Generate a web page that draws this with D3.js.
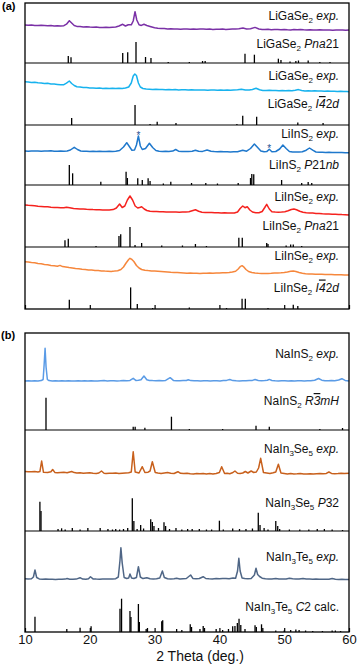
<!DOCTYPE html>
<html><head><meta charset="utf-8">
<script src="https://cdn.jsdelivr.net/npm/d3@7"></script>
<style>body{margin:0;background:#fff}svg{display:block}text{font-family:"Liberation Sans",Arial,sans-serif}</style>
</head><body><svg id="c" width="358" height="671"></svg>
<script>
// ---------------- DATA ----------------
const xTicks = [10, 20, 30, 40, 50, 60];
const axisTitle = "2 Theta (deg.)";
const panelLabels = ["(a)", "(b)"];

// LiGaSe2 experimental (Pna21 sample)
const liGaSe2ExpA = [[10,8],[10.5,7.8],[11,8.1],[11.5,7.6],[12,7.5],[12.5,7.8],[13,7.6],[13.5,7.3],[14,7.4],[14.5,7.0],[15,7.2],[15.5,6.9],[16,7.3],[16.4,8.8],[16.84,12.3],[17.2,10],[17.6,7.5],[18,6.6],[18.5,6.5],[19,6.1],[19.5,6.3],[20,6.0],[20.5,5.8],[21,6.0],[21.5,5.6],[22,5.5],[22.5,5.7],[23,5.4],[23.5,5.7],[24,6.0],[24.5,7.0],[25.08,8.7],[25.5,7.0],[25.94,8.3],[26.4,8.2],[26.7,12],[26.98,21.3],[27.25,13],[27.6,8.2],[27.95,7.6],[28.36,8.7],[28.8,7.5],[29.3,6.5],[30,5.2],[30.5,4.8],[31,4.5],[31.5,4.4],[32,4.0],[32.5,4.2],[33,3.9],[33.5,4.1],[34,3.8],[34.5,4.0],[35,3.9],[35.5,3.7],[36,4.0],[36.5,3.8],[37,4.1],[37.5,3.9],[38,3.7],[38.5,3.9],[39,3.6],[39.5,3.8],[40,3.7],[40.5,3.9],[41,3.6],[41.5,3.8],[42,3.9],[42.5,4.0],[43,4.3],[43.64,4.9],[44.2,4.1],[44.8,4.3],[45.5,5.6],[46.1,4.0],[46.6,3.6],[47,3.5],[47.5,3.7],[48,3.3],[48.5,3.5],[49,3.4],[49.5,3.2],[50,3.6],[50.5,3.3],[51,3.1],[51.5,3.4],[52,3.2],[52.5,3.5],[53,3.2],[53.5,3.0],[54,3.3],[54.5,3.1],[55,3.0],[55.5,3.2],[56,2.9],[56.5,3.1],[57,3.0],[57.5,2.8],[58,3.1],[58.5,2.9],[59,3.0],[59.5,2.8],[60,3.0]];
const liGaSe2Pna21 = [[16.68,7],[17.1,5.7],[25.08,10],[25.85,10.7],[27.13,21],[28.6,6],[29.44,5],[32.1,1],[35.36,1],[37.4,2],[37.8,2],[43.95,9.3],[45.4,8.3],[49.1,4.3],[49.5,3],[50.9,1.5],[51.8,2],[52.2,2.5],[53.7,2.5],[55.5,1],[57.07,1]];

// LiGaSe2 experimental (I-42d sample)
const liGaSe2ExpB = [[10,11.3],[10.5,11.0],[11,10.6],[11.5,10.7],[12,10.2],[12.5,10.0],[13,9.6],[13.5,9.7],[14,9.1],[14.5,8.9],[15,8.6],[15.5,8.3],[16,8.3],[16.4,9.8],[16.84,12.0],[17.2,9.5],[17.6,7.5],[18,6.3],[18.5,6.0],[19,5.6],[19.5,5.5],[20,5.1],[20.5,5.0],[21,4.8],[21.5,4.9],[22,4.6],[22.5,4.8],[23,4.6],[23.5,4.7],[24,4.5],[24.5,4.7],[25,4.6],[25.5,5.0],[26,6.0],[26.4,10],[26.7,17],[26.95,19],[27.2,17.5],[27.5,10],[27.8,6.0],[28.2,4.5],[28.7,4.0],[29.2,3.8],[29.7,3.6],[30.2,3.7],[30.7,3.4],[31.2,3.5],[31.7,3.3],[32.2,3.5],[32.7,3.2],[33.2,3.4],[33.7,3.1],[34.2,3.3],[34.7,3.2],[35.2,3.0],[35.7,3.2],[36.2,3.1],[36.7,2.9],[37.2,3.1],[37.7,3.0],[38.2,2.8],[38.7,3.0],[39.2,2.9],[39.7,2.8],[40.2,3.0],[40.7,2.7],[41.2,2.9],[41.7,2.8],[42.2,3.0],[42.8,3.3],[43.4,3.8],[44,3.0],[44.6,2.9],[45.1,3.5],[45.65,4.8],[46.2,3.2],[46.7,2.6],[47.2,2.5],[47.7,2.7],[48.2,2.4],[48.7,2.6],[49.2,2.3],[49.7,2.5],[50.2,2.2],[50.7,2.4],[51.2,2.3],[51.7,2.7],[52.2,3.4],[52.7,2.5],[53.2,2.1],[53.7,2.3],[54.2,2.0],[54.7,2.2],[55.2,1.9],[55.7,2.1],[56.2,1.8],[56.7,1.9],[57.2,1.7],[57.7,1.8],[58.2,1.6],[58.7,1.7],[59.2,1.4],[59.7,1.5],[60,1.3]];
const liGaSe2I42d = [[17.2,7],[26.98,20],[29.3,1],[30.4,3.3],[33.3,2],[42.7,1],[43.6,9.3],[45.75,8.3],[52.1,2.5],[56.0,2]];

// LiInS2
const liInS2Exp = [[10,4.0],[10.5,3.8],[11,4.1],[11.5,3.9],[12,4.0],[12.5,3.7],[13,3.9],[13.5,4.0],[14,4.2],[14.5,3.8],[15,3.7],[15.5,3.9],[16,3.8],[16.5,4.0],[17,5.0],[17.6,7.7],[18.1,5.5],[18.6,4.0],[19,3.7],[19.5,3.8],[20,3.6],[20.5,3.7],[21,3.5],[21.5,3.7],[22,3.6],[22.5,3.5],[23,3.7],[23.5,3.6],[24,3.8],[24.6,4.5],[25.2,8],[25.7,12.3],[26.1,8.5],[26.5,4.8],[26.9,5.0],[27.2,10],[27.5,19],[27.8,9],[28.1,5.5],[28.6,6.5],[29.2,11.7],[29.7,7.5],[30.2,4.5],[30.7,3.8],[31.2,3.6],[31.7,3.7],[32.2,3.5],[32.8,3.9],[33.25,5.5],[33.7,3.8],[34.2,3.5],[34.7,3.6],[35.2,3.4],[35.8,3.8],[36.3,4.8],[36.8,3.7],[37.4,3.6],[38.1,5.0],[38.7,3.8],[39.2,3.4],[39.7,3.3],[40.2,3.5],[40.7,3.2],[41.2,3.3],[41.7,3.1],[42.2,3.3],[42.8,3.2],[43.6,4.8],[44.2,3.8],[44.8,6.5],[45.4,11],[45.9,7.5],[46.4,4.0],[46.9,3.2],[47.3,3.4],[47.7,5.8],[48.1,3.3],[48.7,3.5],[49.3,6],[49.8,10],[50.3,6.5],[50.8,3.5],[51.3,3.0],[51.8,2.9],[52.3,3.0],[52.8,3.2],[53.4,4.8],[53.9,7],[54.4,4.8],[54.9,3.0],[55.4,2.7],[55.9,2.8],[56.4,2.6],[56.9,2.7],[57.4,2.5],[57.9,2.6],[58.4,2.4],[58.9,2.5],[59.4,2.3],[60,2.3]];
const liInS2Stars = [[27.5,19],[47.7,5.8]];
const liInS2P21nb = [[16.84,20],[17.35,11.7],[21.7,3.3],[25.6,13.3],[25.8,7],[27.4,6.7],[28.1,5],[29.0,6.7],[29.3,4],[31.35,1.5],[32.5,3.3],[35.7,2],[37.9,2],[39.7,1.5],[42.9,2],[44.8,7],[45.0,11],[45.3,10.7],[49.6,5],[52.7,2],[53.7,3],[54.25,2]];

// LiInSe2 (Pna21 sample)
const liInSe2ExpA = [[10,10],[10.5,9.7],[11,9.5],[11.5,9.2],[12,8.8],[12.5,8.6],[13,8.3],[13.5,8.2],[14,7.8],[14.5,7.6],[15,7.4],[15.5,7.2],[16,7.3],[16.4,7.8],[16.9,7.2],[17.5,6.4],[18,6.3],[18.5,6.0],[19,5.9],[19.5,5.7],[20,5.6],[20.5,5.4],[21,5.3],[21.5,5.2],[22,5.0],[22.5,5.1],[23,5.0],[23.6,5.4],[24.1,7.0],[24.6,11],[25.0,7.5],[25.4,9],[25.8,15],[26.2,19],[26.6,15],[27.0,9],[27.4,7.0],[27.8,7.8],[28.0,8.3],[28.4,6.0],[28.8,4.5],[29.3,3.8],[29.8,3.5],[30.3,3.4],[30.8,3.2],[31.3,3.3],[31.8,3.0],[32.3,3.1],[32.8,2.9],[33.3,3.0],[33.8,2.8],[34.3,2.9],[34.8,3.0],[35.3,3.2],[35.8,4.2],[36.3,5.2],[36.8,3.8],[37.3,2.8],[37.8,2.6],[38.3,2.4],[38.8,2.5],[39.3,2.2],[39.8,2.3],[40.3,2.0],[40.8,2.2],[41.3,1.9],[41.8,2.0],[42.3,2.0],[42.8,3.0],[43.2,6.5],[43.6,9],[43.95,7.3],[44.3,8.3],[44.7,5.0],[45.1,3.0],[45.6,2.3],[46.1,2.2],[46.6,3.5],[47.0,7.5],[47.3,10.7],[47.7,6.0],[48.1,3.3],[48.6,3.0],[49.1,2.8],[49.6,3.0],[50.1,3.3],[50.6,4.2],[51.1,5.5],[51.5,6.0],[51.9,5.2],[52.4,3.8],[52.9,2.8],[53.4,2.3],[53.9,2.0],[54.4,1.9],[54.9,1.6],[55.4,1.5],[55.9,1.2],[56.4,1.1],[56.9,1.0],[57.4,0.8],[57.9,0.7],[58.4,0.6],[58.9,0.4],[59.4,0.3],[60,0.0]];
const liInSe2Pna21 = [[16.17,6.7],[16.68,8.3],[20.96,1],[24.5,11],[24.77,12.7],[26.2,20],[26.98,2],[28.0,4],[31.1,1.5],[34.3,1.5],[36.3,3],[38.0,1],[43.0,9.3],[43.53,9.3],[47.3,4],[47.5,3],[50.3,1.5],[51.0,2.5],[51.4,2.5],[52.7,1]];

// LiInSe2 (I-42d sample)
const liInSe2ExpB = [[10,15.3],[10.5,15.0],[11,14.5],[11.5,14.2],[12,13.6],[12.5,13.2],[13,12.6],[13.5,12.3],[14,11.6],[14.5,11.2],[15,10.8],[15.4,11.6],[15.8,10.4],[16.3,10.0],[16.8,9.5],[17.3,9.1],[17.8,8.6],[18.3,8.3],[18.8,7.8],[19.3,7.6],[19.8,7.1],[20.3,6.9],[20.8,6.6],[21.3,6.4],[21.8,6.1],[22.3,5.9],[22.8,5.8],[23.3,5.6],[23.8,5.9],[24.3,6.3],[24.8,7.5],[25.2,10],[25.6,14],[26.0,17.5],[26.2,18.7],[26.5,17.5],[26.8,15.5],[27.2,11.5],[27.6,9],[28.0,7.5],[28.5,6.8],[29.0,6.4],[29.5,6.1],[30.0,5.9],[30.5,5.7],[31.0,5.5],[31.5,5.3],[32.0,5.1],[32.5,4.8],[33.0,4.6],[33.5,4.4],[34.0,4.2],[34.5,4.0],[35.0,3.8],[35.5,3.9],[36.0,3.7],[36.5,3.8],[37.0,3.6],[37.5,3.8],[38.0,3.7],[38.5,3.9],[39.0,3.8],[39.5,4.0],[40.0,4.0],[40.5,4.2],[41.0,4.3],[41.5,4.6],[42.0,5.0],[42.5,5.8],[42.9,8.0],[43.2,10.3],[43.5,11.3],[43.8,9.8],[44.1,7.5],[44.5,5.5],[45.0,4.5],[45.5,4.0],[46.0,3.7],[46.5,3.6],[47.0,3.5],[47.5,3.6],[48.0,3.7],[48.5,3.9],[49.0,4.1],[49.5,4.3],[50.0,4.6],[50.5,5.0],[51.0,5.7],[51.4,6.0],[51.8,5.5],[52.3,4.5],[52.8,3.7],[53.3,3.3],[53.8,3.0],[54.3,2.9],[54.8,2.8],[55.3,2.7],[55.8,2.7],[56.3,2.6],[56.8,2.4],[57.3,2.4],[57.8,2.3],[58.3,2.2],[58.8,2.2],[59.3,2.0],[60,2.0]];
const liInSe2I42d = [[16.84,9.3],[26.3,21.6],[27.33,5],[29.7,1],[35.36,1.5],[41.1,1],[43.5,10.3],[44.0,10.3],[47.5,1],[51.4,4.3],[52.1,3]];

// NaInS2
const naInS2Exp = [[10,2.0],[10.5,2.2],[11,2.0],[11.5,2.3],[12,2.1],[12.5,2.4],[12.8,3.5],[12.95,18],[13.1,34.7],[13.25,16],[13.45,3.5],[13.7,2.4],[14.2,2.1],[14.7,2.3],[15.2,2.0],[15.7,2.2],[16.2,2.1],[16.7,2.3],[17.2,2.0],[17.7,2.1],[18.2,2.3],[18.7,2.0],[19.2,2.2],[19.7,2.1],[20.2,2.3],[20.7,2.1],[21.2,2.0],[21.7,2.2],[22.2,2.4],[22.7,2.1],[23.2,2.3],[23.7,2.2],[24.2,2.0],[24.7,2.2],[25.2,2.5],[25.7,2.3],[26.2,2.6],[26.7,4.7],[27.1,2.6],[27.5,2.8],[27.9,3.2],[28.36,7],[28.8,3.2],[29.2,2.6],[29.7,2.4],[30.2,2.3],[30.7,2.5],[31.2,2.2],[31.7,2.6],[32.4,5.3],[32.9,2.6],[33.4,2.3],[33.9,2.2],[34.4,2.4],[34.9,2.5],[35.2,3.3],[35.6,2.4],[36.1,2.2],[36.6,2.3],[37.1,2.1],[37.6,2.3],[38.1,2.2],[38.6,2.0],[39.1,2.2],[39.6,2.3],[40.1,2.1],[40.6,2.4],[41.1,2.6],[41.6,3.5],[42.1,2.4],[42.6,2.2],[43.1,2.1],[43.6,2.3],[44.1,2.2],[44.6,2.4],[45.1,2.6],[45.5,3.5],[46.0,2.5],[46.5,2.3],[47.0,2.4],[47.4,2.7],[47.7,3.6],[48.1,2.5],[48.6,2.2],[49.1,2.1],[49.6,2.3],[50.1,2.2],[50.6,2.0],[51.1,2.2],[51.6,2.1],[52.1,2.3],[52.6,2.2],[53.1,2.0],[53.6,2.2],[54.1,2.3],[54.7,2.8],[55.3,4.5],[55.8,2.8],[56.3,2.3],[56.8,2.2],[57.3,2.4],[57.8,2.3],[58.4,3.0],[58.9,4.3],[59.4,2.6],[60,2.0]];
const naInS2R3mH = [[13.24,32.3],[26.7,3.3],[27.0,3.3],[28.5,2.3],[32.6,13.3],[35.36,1],[40.5,1],[45.65,4.3],[47.7,3.3],[55.5,1],[59.0,2]];

// NaIn3Se5
const naIn3Se5Exp = [[10,8.5],[10.5,8.3],[11,8.2],[11.5,8.4],[12,8.0],[12.3,8.4],[12.57,19],[12.85,7.7],[13.5,7.5],[14.0,8.2],[14.27,10.5],[14.6,7.6],[15,7.2],[15.5,7.5],[16,7.7],[16.5,7.3],[17.2,8.5],[17.6,7.4],[18,7.0],[18.5,7.3],[19,6.7],[19.5,7.0],[20,7.2],[20.5,6.8],[21,6.5],[21.4,7.0],[21.8,9],[22.2,6.8],[22.5,6.5],[23,6.8],[23.5,6.7],[24,7.0],[24.5,6.5],[25,6.8],[25.5,7.0],[26,7.2],[26.4,8],[26.7,28.3],[27.0,8],[27.3,7.5],[27.6,7],[28.1,13.3],[28.5,7.5],[29.0,7.8],[29.3,9],[29.65,18.3],[30.1,7.5],[30.5,7.0],[31,6.5],[31.5,7.0],[32,7.5],[32.5,6.8],[33,6.5],[33.6,8.3],[34.0,6.7],[34.5,6.5],[35,6.8],[35.5,6.2],[36,6.0],[36.5,6.4],[37,6.2],[37.5,6.5],[38,6.1],[38.5,6.4],[39,6.0],[39.5,6.5],[40,7.5],[40.35,13.3],[40.8,6.5],[41.2,6.8],[41.6,6.3],[42.0,7.2],[42.4,9],[42.8,6.8],[43.2,6.5],[43.6,7.0],[44.0,8.5],[44.4,7.0],[44.9,9],[45.3,7.5],[45.7,8],[46.05,12],[46.37,21.7],[46.8,7.5],[47.3,7.0],[47.8,6.5],[48.3,7.2],[48.7,8],[49.1,15.7],[49.5,7],[50.0,6.5],[50.5,6.0],[51,6.4],[51.5,6.1],[52,6.2],[52.5,6.5],[53,6.1],[53.5,6.0],[54,6.3],[54.5,6.0],[55,6.3],[55.5,6.5],[56,6.2],[56.5,6.6],[56.9,8],[57.3,6.6],[57.8,6.3],[58.3,6.5],[58.8,6.8],[59.3,6.6],[60,6.7]];
const naIn3Se5P32 = [[12.3,29.3],[12.47,20],[15.1,2],[15.65,2.7],[16.2,1.5],[17.3,3],[18.5,1.5],[19.7,3],[21.6,3],[22.8,2],[23.5,1.5],[24.0,2],[24.6,1.5],[25.2,2],[25.85,3],[26.56,32.7],[26.8,10],[27.3,2],[27.85,6],[28.3,2.5],[29.4,11.7],[29.65,9],[29.9,5],[30.6,3],[31.45,8.7],[31.7,5],[32.3,2],[33.3,3],[34.2,1.5],[35.1,2],[35.8,2],[36.9,2],[38.0,1.5],[38.8,1.5],[40.0,10.3],[40.6,1.5],[42.05,2.5],[43.1,2],[44.1,2],[45.1,2.5],[46.0,18.3],[46.27,6],[46.9,3],[47.5,1.5],[48.7,10],[49.0,5],[49.3,2],[50.8,1.5],[52.4,1.5],[53.8,1.5],[55.1,2],[56.2,2],[57.4,1.5],[59.0,1]];

// NaIn3Te5
const naIn3Te5Exp = [[10,2.3],[10.5,2.0],[11,2.2],[11.3,4],[11.54,11],[11.8,3.5],[12.2,2.1],[12.7,1.8],[13.2,1.9],[13.7,1.7],[14.2,1.8],[14.7,1.6],[15.2,1.8],[15.7,1.7],[16.2,1.9],[16.5,2.5],[16.9,1.8],[17.4,1.7],[17.9,1.9],[18.5,3.3],[18.9,1.9],[19.4,1.8],[19.8,2.3],[20.1,4.3],[20.5,2.1],[21,1.9],[21.5,1.8],[22,2.0],[22.5,1.9],[23,2.1],[23.5,2.0],[24.0,2.3],[24.4,4],[24.65,20],[24.8,33.3],[25.0,18],[25.3,3.5],[25.7,2.5],[26.0,3],[26.2,7],[26.45,3],[26.8,2.5],[27.2,3.5],[27.5,14.3],[27.8,4],[28.2,2.4],[28.8,3.3],[29.3,2.2],[29.8,2.0],[30.3,2.2],[30.8,3],[31.2,10],[31.5,3.5],[32,2.2],[32.5,2.0],[33.0,2.2],[33.4,2.8],[33.9,2.1],[34.4,2.3],[34.9,2.5],[35.56,6],[35.9,2.6],[36.4,2.2],[36.9,2.5],[37.5,4.3],[37.9,2.5],[38.4,2.2],[38.9,2.1],[39.5,2.6],[40,2.2],[40.5,2.4],[41,2.6],[41.5,2.3],[42.1,3],[42.5,2.8],[42.8,10],[43.0,22.7],[43.2,10],[43.5,3],[43.9,2.5],[44.4,2.3],[44.9,2.6],[45.4,6],[45.65,12.7],[45.9,6.5],[46.2,4.5],[46.6,2.8],[47.1,2.2],[47.6,2.0],[48.1,2.1],[48.7,2.4],[49.2,2.0],[49.7,2.1],[50.3,2.0],[50.8,2.8],[51.3,2.2],[51.8,2.1],[52.3,2.0],[52.9,2.6],[53.4,2.0],[53.9,1.9],[54.4,1.8],[54.9,1.9],[55.4,1.7],[55.9,1.8],[56.4,1.7],[56.9,1.8],[57.4,2.4],[57.9,1.8],[58.4,1.6],[58.9,1.7],[59.4,1.5],[60,1.5]];
const naIn3Te5C2 = [[11.54,15.3],[16.45,3],[18.5,4.3],[20.2,5.7],[24.66,23.3],[24.9,33.3],[26.2,21],[26.35,15],[27.5,28],[27.65,10],[28.7,3],[28.9,4],[31.1,10.7],[31.25,11.7],[33.4,3],[34.2,2],[35.5,7.7],[35.7,5],[37.0,3],[37.5,6],[37.7,4],[39.5,3],[40.5,2],[41.4,3],[42.05,5.7],[42.4,6],[42.77,9],[43.03,13.3],[43.3,7],[43.95,3],[45.5,6.7],[45.7,5],[46.5,7.7],[46.7,4],[48.7,1.5],[50.0,1.5],[51.0,2],[51.8,2.5],[52.3,2],[53.3,1.5],[54.4,1],[55.9,1],[57.4,1.5],[57.9,1.5],[58.7,1]];

// labels: [text, style] n=normal i=italic s=subscript o=overlined oi=overlined italic
const lblLiGaSe2Exp = [["LiGaSe","n"],["2","s"],[" ","n"],["exp.","i"]];
const lblLiGaSe2Pna21 = [["LiGaSe","n"],["2","s"],[" ","n"],["Pna","i"],["21","n"]];
const lblLiGaSe2I42d = [["LiGaSe","n"],["2","s"],[" ","n"],["I","i"],["4","oi"],["2","n"],["d","i"]];
const lblLiInS2Exp = [["LiInS","n"],["2","s"],[" ","n"],["exp.","i"]];
const lblLiInS2P21nb = [["LiInS","n"],["2","s"],[" ","n"],["P","i"],["21","n"],["nb","i"]];
const lblLiInSe2Exp = [["LiInSe","n"],["2","s"],[" ","n"],["exp.","i"]];
const lblLiInSe2Pna21 = [["LiInSe","n"],["2","s"],[" ","n"],["Pna","i"],["21","n"]];
const lblLiInSe2I42d = [["LiInSe","n"],["2","s"],[" ","n"],["I","i"],["4","oi"],["2","n"],["d","i"]];
const lblNaInS2Exp = [["NaInS","n"],["2","s"],[" ","n"],["exp.","i"]];
const lblNaInS2R3mH = [["NaInS","n"],["2","s"],[" ","n"],["R","i"],["3","oi"],["mH","i"]];
const lblNaIn3Se5Exp = [["NaIn","n"],["3","s"],["Se","n"],["5","s"],[" ","n"],["exp.","i"]];
const lblNaIn3Se5P32 = [["NaIn","n"],["3","s"],["Se","n"],["5","s"],[" ","n"],["P","i"],["32","n"]];
const lblNaIn3Te5Exp = [["NaIn","n"],["3","s"],["Te","n"],["5","s"],[" ","n"],["exp.","i"]];
const lblNaIn3Te5C2 = [["NaIn","n"],["3","s"],["Te","n"],["5","s"],[" ","n"],["C","i"],["2 calc.","n"]];

// ---------------- DRAWING ----------------
const svg = d3.select("#c");
const xL = 25, xR = 349;
const x = d3.scaleLinear().domain([10, 60]).range([xL, xR]);

const groupsA = [
  {top:3, bot:63, exp:liGaSe2ExpA, calc:liGaSe2Pna21, color:"#7a30a6", le:lblLiGaSe2Exp, lc:lblLiGaSe2Pna21, ly:[16.5,44.5]},
  {top:63, bot:125, exp:liGaSe2ExpB, calc:liGaSe2I42d, color:"#17b2ee", le:lblLiGaSe2Exp, lc:lblLiGaSe2I42d, ly:[16.5,45]},
  {top:125, bot:185, exp:liInS2Exp, calc:liInS2P21nb, color:"#1f78cc", le:lblLiInS2Exp, lc:lblLiInS2P21nb, ly:[13,44], stars:liInS2Stars},
  {top:185, bot:247, exp:liInSe2ExpA, calc:liInSe2Pna21, color:"#f5221e", le:lblLiInSe2Exp, lc:lblLiInSe2Pna21, ly:[15.5,45]},
  {top:247, bot:309, exp:liInSe2ExpB, calc:liInSe2I42d, color:"#f6873c", le:lblLiInSe2Exp, lc:lblLiInSe2I42d, ly:[13,44.5]}
];
const groupsB = [
  {top:333, bot:430, exp:naInS2Exp, calc:naInS2R3mH, color:"#5a9be6", le:lblNaInS2Exp, lc:lblNaInS2R3mH, ly:[25,72]},
  {top:430, bot:531, exp:naIn3Se5Exp, calc:naIn3Se5P32, color:"#c8601c", le:lblNaIn3Se5Exp, lc:lblNaIn3Se5P32, ly:[23,77]},
  {top:531, bot:632, exp:naIn3Te5Exp, calc:naIn3Te5C2, color:"#4f6686", le:lblNaIn3Te5Exp, lc:lblNaIn3Te5C2, ly:[30,80]}
];

function label(parent, xx, yy, parts) {
  const t = parent.append("text").attr("x", xx).attr("y", yy).attr("text-anchor", "end")
    .attr("font-size", 12).attr("fill", "#111");
  let shift = 0;
  parts.forEach(([s, st]) => {
    const sp = t.append("tspan").text(s);
    if (st === "s") { sp.attr("dy", 3 - shift).attr("font-size", 8); shift = 3; }
    else {
      if (shift) { sp.attr("dy", -shift); shift = 0; }
      if (st === "i" || st === "oi") sp.attr("font-style", "italic");
      if (st === "o" || st === "oi") sp.style("text-decoration", "overline");
    }
  });
}

function drawGroup(g, ref) {
  const yE = d3.scaleLinear().domain([0, ref]).range([g.top + ref, g.top]);
  const yC = d3.scaleLinear().domain([0, 30]).range([g.bot, g.bot - 30]);
  const line = d3.line().x(d => x(d[0])).y(d => yE(d[1]));
  svg.append("path").datum(g.exp).attr("d", line).attr("fill", "none")
    .attr("stroke", g.color).attr("stroke-width", 1.5).attr("stroke-linejoin", "round");
  svg.append("g").selectAll("line").data(g.calc).join("line")
    .attr("x1", d => x(d[0])).attr("x2", d => x(d[0]))
    .attr("y1", yC(0)).attr("y2", d => yC(d[1]))
    .attr("stroke", "#000").attr("stroke-width", 1.3);
  if (g.stars) {
    svg.append("g").selectAll("text").data(g.stars).join("text")
      .attr("x", d => x(d[0])).attr("y", d => yE(d[1]) + 3)
      .attr("text-anchor", "middle").attr("font-size", 10).attr("fill", "#1f4f90").text("*");
  }
  label(svg, 339, g.top + g.ly[0], g.le);
  label(svg, 339, g.top + g.ly[1], g.lc);
}

groupsA.forEach(g => drawGroup(g, 30));
groupsB.forEach(g => drawGroup(g, 50));

function frame(groups, withLabels) {
  const top = groups[0].top, bot = groups[groups.length - 1].bot;
  svg.append("rect").attr("x", xL).attr("y", top).attr("width", xR - xL).attr("height", bot - top)
    .attr("fill", "none").attr("stroke", "#000").attr("stroke-width", 1.3);
  groups.slice(1).forEach(g => svg.append("line").attr("x1", xL).attr("x2", xR)
    .attr("y1", g.top).attr("y2", g.top).attr("stroke", "#000").attr("stroke-width", 1.2));
  const ax = d3.axisBottom(x).tickValues(xTicks).tickSizeInner(-4).tickSizeOuter(0).tickPadding(3);
  if (!withLabels) ax.tickFormat("");
  const a = svg.append("g").attr("transform", `translate(0,${bot})`).call(ax);
  a.select(".domain").remove();
  a.selectAll(".tick line").attr("stroke", "#000").attr("stroke-width", 1.2);
  a.selectAll(".tick text").attr("font-size", 13).attr("fill", "#111")
    .attr("font-family", '"Liberation Sans",Arial,sans-serif');
}
frame(groupsA, false);
frame(groupsB, true);

svg.append("text").attr("x", 200).attr("y", 661).attr("text-anchor", "middle")
  .attr("font-size", 14).attr("fill", "#111").text(axisTitle);
svg.append("text").attr("x", 2).attr("y", 10).attr("font-size", 11).attr("font-weight", "bold").text(panelLabels[0]);
svg.append("text").attr("x", 1).attr("y", 339).attr("font-size", 11).attr("font-weight", "bold").text(panelLabels[1]);
</script></body></html>
